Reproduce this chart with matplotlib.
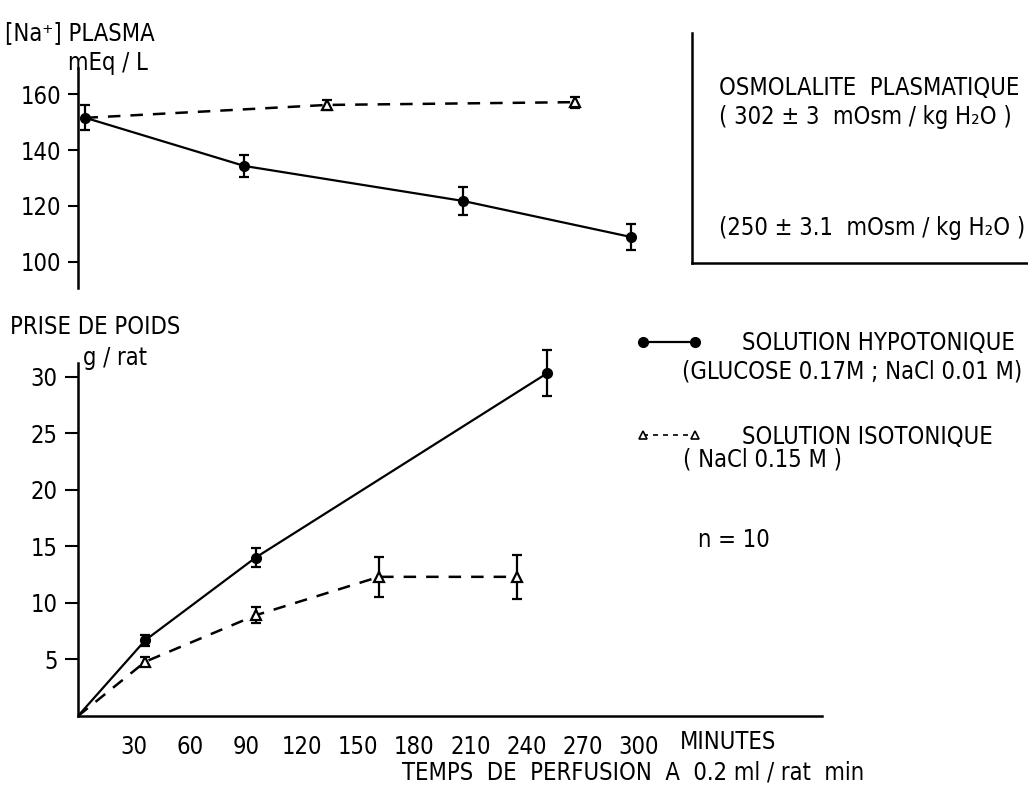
import matplotlib
matplotlib.use('Agg')
import matplotlib.pyplot as plt

plt.rcParams['font.family'] = 'DejaVu Sans'
plt.rcParams['font.stretch'] = 'condensed'
plt.rcParams['font.size'] = 16

# plasma sodium, mEq/L (time in minutes)
na_hypo_t = [4, 89, 206, 296]
na_hypo = [151.5, 134.3, 121.8, 108.9]
na_hypo_err = [4.5, 4.0, 5.0, 4.6]
na_iso_t = [4, 133, 266]
na_iso = [151.5, 156.1, 157.1]
na_iso_err = [4.5, 1.8, 2.0]

# weight gain, g/rat
wt_hypo_t = [0, 36, 95, 251]
wt_hypo = [0, 6.7, 14.0, 30.3]
wt_hypo_err = [0, 0.5, 0.85, 2.05]
wt_iso_t = [0, 36, 95, 161, 235]
wt_iso = [0, 4.8, 8.9, 12.3, 12.3]
wt_iso_err = [0, 0.4, 0.7, 1.75, 1.95]

x_ticks = [30, 60, 90, 120, 150, 180, 210, 240, 270, 300]
na_ticks = [100, 120, 140, 160]
wt_ticks = [5, 10, 15, 20, 25, 30]

W, H = 1028, 785
fig = plt.figure(figsize=(W / 100, H / 100), dpi=100)

def px(x0, y0, x1, y1):
    return [x0 / W, 1 - y1 / H, (x1 - x0) / W, (y1 - y0) / H]

hypo_style = dict(color='black', lw=1.6, ls='-')
iso_style = dict(color='black', lw=1.8, ls=(0, (5, 4)))
err_kw = dict(ecolor='black', elinewidth=1.6, capsize=3.5, capthick=1.6, clip_on=False)

# ---- top panel: [Na+] plasma
ax1 = fig.add_axes(px(78, 68, 822, 288))
ax1.set_xlim(0, 398)
ax1.set_ylim(90.7, 169.3)
for s in ['top', 'right', 'bottom']:
    ax1.spines[s].set_visible(False)
ax1.spines['left'].set_linewidth(1.8)
ax1.set_xticks([])
ax1.set_yticks(na_ticks)
ax1.tick_params(axis='y', length=7, width=1.5, pad=5, labelsize=17)

ax1.plot(na_hypo_t, na_hypo, **hypo_style)
ax1.plot(na_iso_t, na_iso, **iso_style)
ax1.errorbar(na_hypo_t, na_hypo, yerr=na_hypo_err, fmt='o', ms=7,
             mfc='black', mec='black', **err_kw)
ax1.errorbar(na_iso_t[1:], na_iso[1:], yerr=na_iso_err[1:], fmt='^', ms=7,
             mfc='white', mec='black', mew=1.6, **err_kw)

# ---- bottom panel: weight gain
ax2 = fig.add_axes(px(78, 363, 822, 716))
ax2.set_xlim(0, 398)
ax2.set_ylim(0, 31.2)
for s in ['top', 'right']:
    ax2.spines[s].set_visible(False)
for s in ['left', 'bottom']:
    ax2.spines[s].set_linewidth(1.8)
ax2.set_xticks(x_ticks)
ax2.set_yticks(wt_ticks)
ax2.tick_params(axis='x', length=0, pad=14, labelsize=17)
ax2.tick_params(axis='y', length=9.5, width=1.5, pad=5, labelsize=17)

ax2.plot(wt_hypo_t, wt_hypo, **hypo_style)
ax2.plot(wt_iso_t, wt_iso, **iso_style)
ax2.errorbar(wt_hypo_t[1:], wt_hypo[1:], yerr=wt_hypo_err[1:], fmt='o', ms=7,
             mfc='black', mec='black', **err_kw)
ax2.errorbar(wt_iso_t[1:], wt_iso[1:], yerr=wt_iso_err[1:], fmt='^', ms=7,
             mfc='white', mec='black', mew=1.6, **err_kw)

# legend
h_hypo = plt.Line2D([], [], marker='o', ms=7, mfc='black', mec='black', **hypo_style)
h_iso = plt.Line2D([], [], marker='^', ms=6, mfc='white', mec='black', mew=1.2,
                   color='black', lw=1.2, ls=(0, (3, 3)))
fig.legend([h_hypo, h_iso], ['SOLUTION HYPOTONIQUE', 'SOLUTION ISOTONIQUE'],
           loc='upper left', bbox_to_anchor=(636 / W, 1 - 331 / H),
           numpoints=2, handlelength=2.8, handletextpad=1.7, labelspacing=2.95,
           frameon=False, borderpad=0, borderaxespad=0, fontsize=17)
fig.text(682 / W, 1 - 371 / H, '(GLUCOSE 0.17M ; NaCl 0.01 M)', fontsize=17, va='center')
fig.text(683 / W, 1 - 459 / H, '( NaCl 0.15 M )', fontsize=17, va='center')
fig.text(698 / W, 1 - 540 / H, 'n = 10', fontsize=17, va='center')

# axis titles
fig.text(5 / W, 1 - 33 / H, '[Na⁺] PLASMA', fontsize=17, va='center')
fig.text(68 / W, 1 - 63 / H, 'mEq / L', fontsize=17, va='center')
fig.text(10 / W, 1 - 327 / H, 'PRISE DE POIDS', fontsize=17, va='center')
fig.text(83 / W, 1 - 358 / H, 'g / rat', fontsize=17, va='center')
fig.text(680 / W, 1 - 742 / H, 'MINUTES', fontsize=17, va='center')
fig.text(402 / W, 1 - 773 / H, 'TEMPS  DE  PERFUSION  A  0.2 ml / rat  min', fontsize=17, va='center')

# osmolality box
axb = fig.add_axes(px(692, 33, 1028, 263))
axb.set_xticks([])
axb.set_yticks([])
for s in ['top', 'right']:
    axb.spines[s].set_visible(False)
for s in ['left', 'bottom']:
    axb.spines[s].set_linewidth(1.8)
axb.patch.set_alpha(0)
axb.text(27 / 336, 1 - 55 / 230, 'OSMOLALITE  PLASMATIQUE', transform=axb.transAxes,
         fontsize=17, va='center')
axb.text(27 / 336, 1 - 84 / 230, '( 302 ± 3  mOsm / kg H₂O )', transform=axb.transAxes,
         fontsize=17, va='center')
axb.text(27 / 336, 1 - 195 / 230, '(250 ± 3.1  mOsm / kg H₂O )', transform=axb.transAxes,
         fontsize=17, va='center')

fig.savefig('out.png', dpi=100)
